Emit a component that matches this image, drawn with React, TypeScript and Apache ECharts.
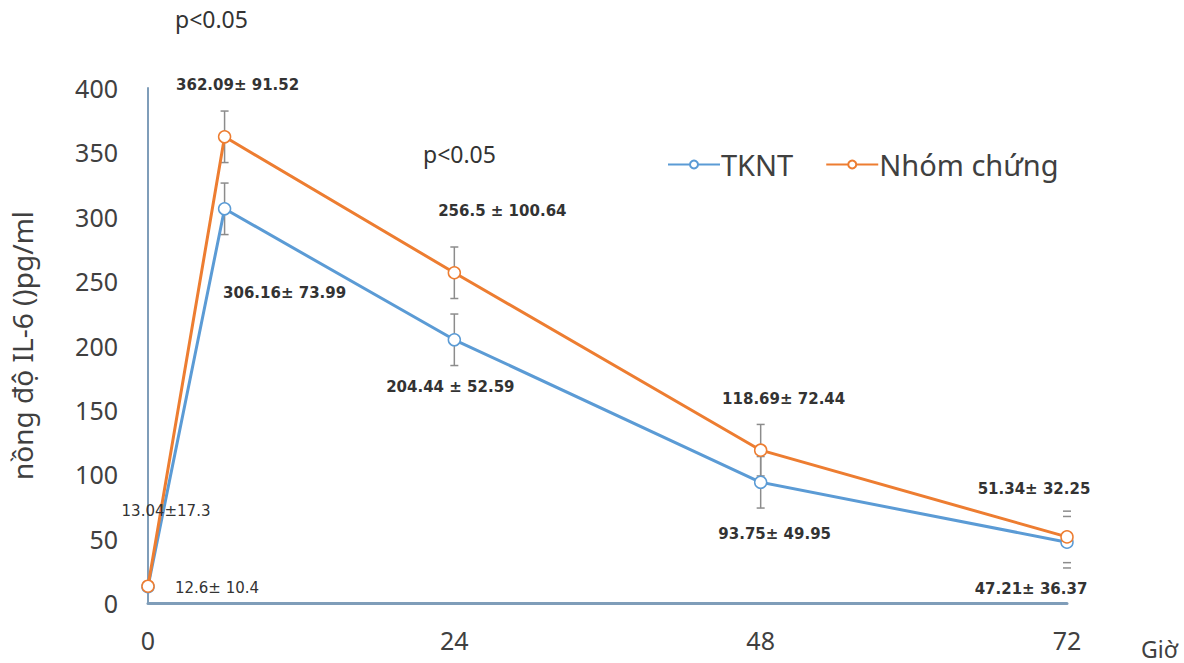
import React, { useEffect, useRef } from "react";
import * as echarts from "echarts";

const hours = [0, 6, 24, 48, 72];
const xTicks = [0, 24, 48, 72];
const tkntMean = [12.6, 306.16, 204.44, 93.75, 47.21];
const nhomMean = [13.04, 362.09, 256.5, 118.69, 51.34];
const tkntLabels = ["12.6± 10.4", "306.16± 73.99", "204.44 ± 52.59", "93.75± 49.95", "47.21± 36.37"];
const nhomLabels = ["13.04±17.3", "362.09± 91.52", "256.5 ± 100.64", "118.69± 72.44", "51.34± 32.25"];
const errHalf = [0, 20, 20, 20, 20];
const errShowLine = [false, true, true, true, false];
const tkntLabelOffset = [[69, 1], [60, 84], [-4, 47], [14, 52], [-36, 47]];
const nhomLabelOffset = [[18, -75], [13, -52], [48, -62], [23, -51], [-33, -48]];
const seriesNames = ["TKNT", "Nhóm chứng"];
const pNotes = ["p<0.05", "p<0.05"];

const BLUE = "#5b9bd5";
const ORANGE = "#ed7d31";
const AXIS = "#7f9db9";
const FONT = "'Noto Sans', sans-serif";
const LABEL_FONT = "'DejaVu Sans', sans-serif";

function buildData(means: number[], labels: string[], offsets: number[][], bold: boolean[]) {
  return hours.map((h, i) => ({
    value: [h, means[i]],
    label: {
      show: true,
      position: "inside",
      formatter: labels[i],
      offset: offsets[i],
      fontFamily: LABEL_FONT,
      fontSize: 15,
      fontWeight: bold[i] ? "bold" : "normal",
      color: "#333333",
    },
  }));
}

function errData(means: number[]) {
  return hours.map((h, i) => [h, means[i], errHalf[i], errShowLine[i] ? 1 : 0]);
}

const renderErr = (params: any, api: any) => {
  const x = api.value(0);
  const y = api.value(1);
  const e = api.value(2);
  const showLine = api.value(3);
  if (!e) return null;
  const top = api.coord([x, y + e]);
  const bot = api.coord([x, y - e]);
  const cw = 4;
  const style = { stroke: "#8c8c8c", lineWidth: 1.5 };
  const children: any[] = [
    { type: "line", shape: { x1: top[0] - cw, y1: top[1], x2: top[0] + cw, y2: top[1] }, style },
    { type: "line", shape: { x1: bot[0] - cw, y1: bot[1], x2: bot[0] + cw, y2: bot[1] }, style },
  ];
  if (showLine) {
    children.push({ type: "line", shape: { x1: top[0], y1: top[1], x2: bot[0], y2: bot[1] }, style });
  }
  return { type: "group", children };
};

export default function App() {
  const ref = useRef<HTMLDivElement>(null);
  useEffect(() => {
    if (!ref.current) return;
    const chart = echarts.init(ref.current, null, { renderer: "svg" });
    const lineCommon = {
      type: "line",
      symbol: "circle",
      symbolSize: 12,
      lineStyle: { width: 3 },
      z: 3,
    };
    chart.setOption({
      animation: false,
      backgroundColor: "#ffffff",
      grid: { left: 148, right: 117, top: 88, bottom: 60, containLabel: false },
      legend: {
        data: seriesNames,
        left: 662,
        top: 145,
        itemWidth: 52,
        itemHeight: 10,
        itemGap: 32,
        textStyle: { fontFamily: FONT, fontSize: 29, color: "#404040", padding: [0, 0, 0, -4] },
      },
      xAxis: {
        type: "value",
        min: 0,
        max: 72,
        interval: 24,
        axisLine: { show: true, lineStyle: { color: AXIS, width: 3 } },
        axisTick: { show: false },
        splitLine: { show: false },
        axisLabel: {
          margin: 24,
          fontFamily: FONT,
          fontSize: 25,
          color: "#404040",
          formatter: (v: number) => (xTicks.indexOf(v) >= 0 ? String(v) : ""),
        },
      },
      yAxis: {
        type: "value",
        min: 0,
        max: 400,
        interval: 50,
        name: "nồng độ IL-6 ()pg/ml",
        nameLocation: "middle",
        nameGap: 112,
        nameTextStyle: { fontFamily: FONT, fontSize: 28, color: "#404040" },
        axisLine: { show: true, lineStyle: { color: AXIS, width: 2 } },
        axisTick: { show: false },
        splitLine: { show: false },
        axisLabel: { margin: 30, fontFamily: FONT, fontSize: 25, color: "#404040" },
      },
      graphic: [
        {
          type: "text",
          left: 175,
          top: 7,
          style: { text: pNotes[0], fontFamily: FONT, fontSize: 23, fill: "#333333" },
        },
        {
          type: "text",
          left: 423,
          top: 142,
          style: { text: pNotes[1], fontFamily: FONT, fontSize: 23, fill: "#333333" },
        },
        {
          type: "text",
          left: 1141,
          top: 637,
          style: { text: "Giờ", fontFamily: FONT, fontSize: 23, fill: "#404040" },
        },
      ],
      series: [
        {
          type: "custom",
          name: "errTKNT",
          renderItem: renderErr,
          data: errData(tkntMean),
          z: 2,
          silent: true,
          encode: { x: 0, y: 1 },
        },
        {
          type: "custom",
          name: "errNhom",
          renderItem: renderErr,
          data: errData(nhomMean),
          z: 2,
          silent: true,
          encode: { x: 0, y: 1 },
        },
        {
          ...lineCommon,
          name: seriesNames[0],
          color: BLUE,
          itemStyle: { color: "#ffffff", borderColor: BLUE, borderWidth: 1.5 },
          lineStyle: { width: 3, color: BLUE },
          data: buildData(tkntMean, tkntLabels, tkntLabelOffset, [false, true, true, true, true]),
        },
        {
          ...lineCommon,
          name: seriesNames[1],
          color: ORANGE,
          itemStyle: { color: "#ffffff", borderColor: ORANGE, borderWidth: 1.5 },
          lineStyle: { width: 3, color: ORANGE },
          data: buildData(nhomMean, nhomLabels, nhomLabelOffset, [false, true, true, true, true]),
        },
      ],
    });
    return () => chart.dispose();
  }, []);
  return <div ref={ref} style={{ width: 1184, height: 663, position: "absolute", left: 0, top: 0 }} />;
}
